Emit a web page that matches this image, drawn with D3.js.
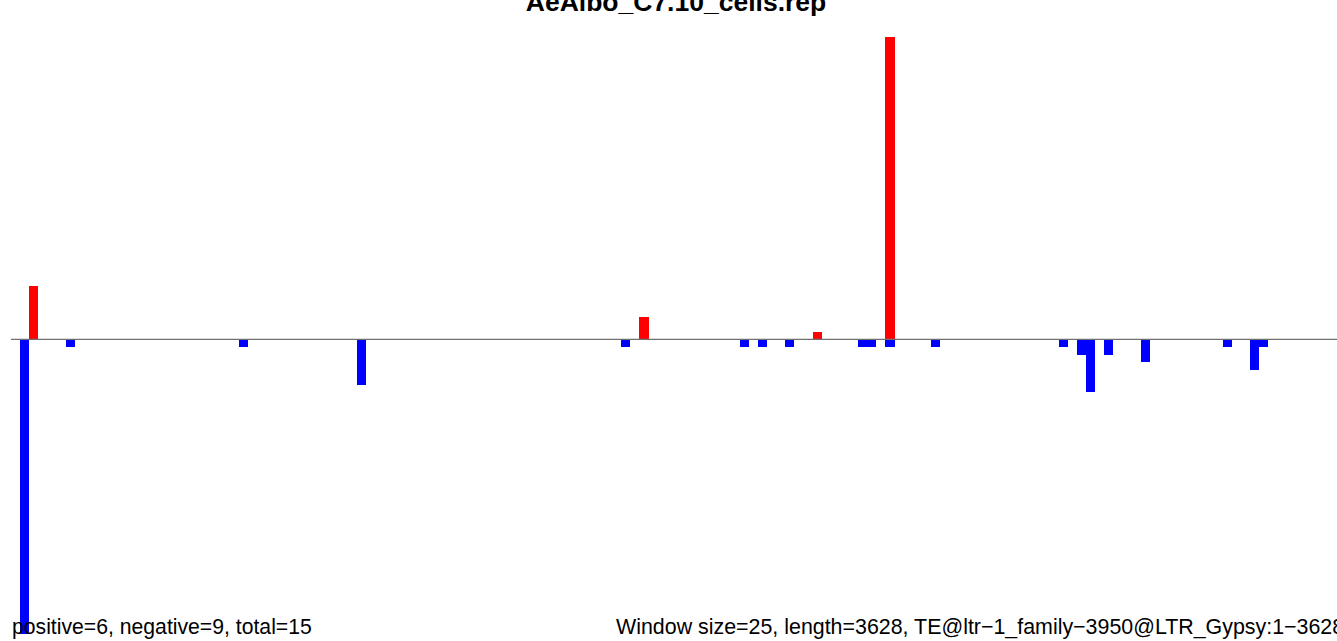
<!DOCTYPE html>
<html>
<head>
<meta charset="utf-8">
<script src="https://cdn.jsdelivr.net/npm/d3@7"></script>
<style>
  html, body { margin: 0; padding: 0; background: #fff; }
  svg { display: block; }
</style>
</head>
<body>
<svg id="chart" width="1337" height="641"></svg>
<script>
const title = "AeAlbo_C7.10_cells.rep";
const leftNote = "positive=6, negative=9, total=15";
const rightNote = "Window size=25, length=3628, TE@ltr\u22121_family\u22123950@LTR_Gypsy:1\u22123628";
const windowCount = 146;

const posBins   = [1, 68, 87, 95];
const posValues = [7, 3, 1, 40];

const negBins   = [0, 5, 24, 37, 66, 79, 81, 84, 92, 93, 95, 100, 114, 116, 117, 119, 123, 132, 135, 136];
const negValues = [-39, -1, -1, -6, -1, -1, -1, -1, -1, -1, -1, -1, -1, -2, -7, -2, -3, -1, -4, -1];

const svg = d3.select("#chart");
const W = 1337, H = 641;

const x = d3.scaleLinear().domain([0, windowCount]).range([20, 20 + windowCount * 9.11]);
const y = d3.scaleLinear().domain([0, 40]).range([339.4, 37]);

const pos = posBins.map((b, i) => ({bin: b, v: posValues[i]}));
const neg = negBins.map((b, i) => ({bin: b, v: negValues[i]}));

svg.append("g").selectAll("rect").data(pos).join("rect")
  .attr("x", d => x(d.bin))
  .attr("width", d => x(d.bin + 1) - x(d.bin))
  .attr("y", d => y(d.v))
  .attr("height", d => y(0) - y(d.v))
  .attr("fill", "#ff0000")
  .attr("shape-rendering", "crispEdges");

svg.append("g").selectAll("rect").data(neg).join("rect")
  .attr("x", d => x(d.bin))
  .attr("width", d => x(d.bin + 1) - x(d.bin))
  .attr("y", y(0))
  .attr("height", d => y(d.v) - y(0))
  .attr("fill", "#0000ff")
  .attr("shape-rendering", "crispEdges");

svg.append("line")
  .attr("x1", 11).attr("x2", W)
  .attr("y1", y(0)).attr("y2", y(0))
  .attr("stroke", "#707070")
  .attr("stroke-width", 1.4);

svg.append("text")
  .attr("x", 676).attr("y", 11)
  .attr("text-anchor", "middle")
  .attr("font-family", "Liberation Sans, Arial, sans-serif")
  .attr("font-weight", "bold")
  .attr("font-size", 26.5)
  .attr("fill", "#000")
  .text(title);

svg.append("text")
  .attr("x", 12).attr("y", 634)
  .attr("font-family", "Liberation Sans, Arial, sans-serif")
  .attr("font-size", 21.2)
  .attr("fill", "#000")
  .text(leftNote);

svg.append("text")
  .attr("x", 616).attr("y", 634)
  .attr("font-family", "Liberation Sans, Arial, sans-serif")
  .attr("font-size", 21.4)
  .attr("fill", "#000")
  .text(rightNote);
</script>
</body>
</html>
